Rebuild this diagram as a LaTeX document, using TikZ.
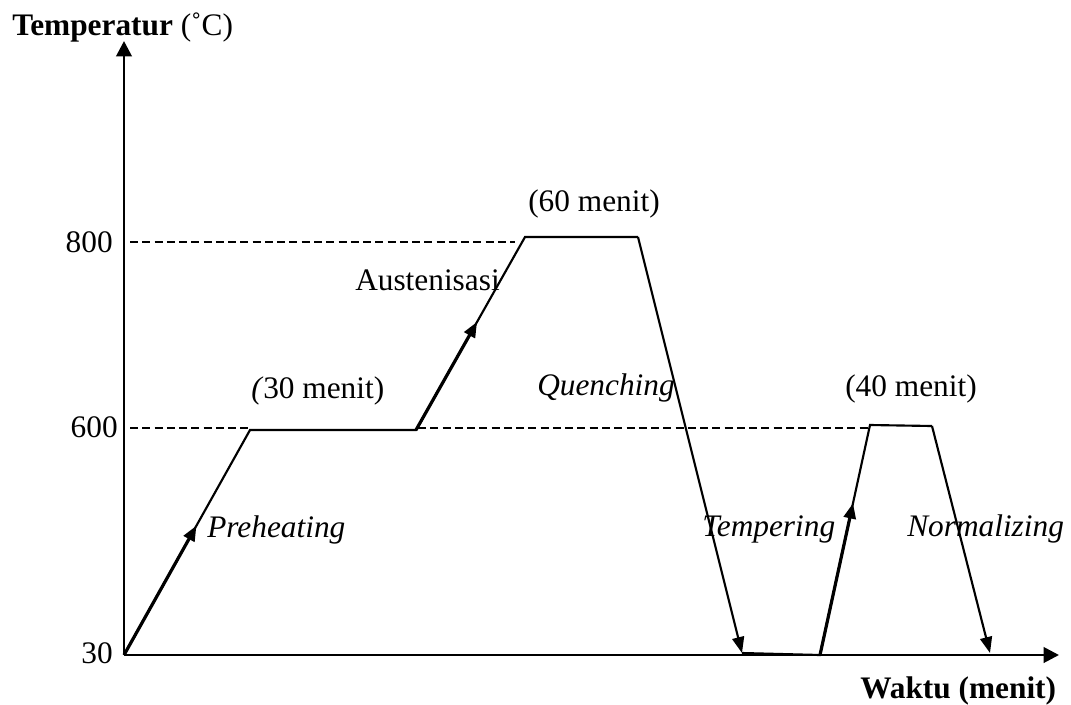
\documentclass[tikz,border=0pt]{standalone}
\usepackage{fontspec}
\setmainfont{Liberation Serif}
\usetikzlibrary{arrows.meta,calc}
\begin{document}
\begin{tikzpicture}[x=0.75pt,y=-0.75pt,
  lbl/.style={font=\fontsize{23.5}{28}\selectfont, inner sep=0pt},
  axisline/.style={line width=2.1pt, -{Triangle[length=11.5pt,width=11.5pt]}},
  curveline/.style={line width=1.6pt},
  downline/.style={line width=1.6pt, -{Triangle[length=12pt,width=9pt]}},
  ramp/.style={line width=2.4pt, -{Triangle[length=11.5pt,width=9pt]}},
  guide/.style={line width=1.5pt, dash pattern=on 6pt off 3.2pt}]
\useasboundingbox (0,0) rectangle (1071,704);
% points
\coordinate (O) at (124,655);
\coordinate (Ytip) at (124,41);
\coordinate (Xtip) at (1059,655);
\coordinate (P1) at (250,430);
\coordinate (P2) at (416,430);
\coordinate (P3) at (525,237);
\coordinate (P4) at (638,237);
\coordinate (P5) at (742,653);
\coordinate (P6) at (820,655);
\coordinate (P7) at (870,425);
\coordinate (P8) at (932,426);
\coordinate (P9) at (990,653);
\coordinate (D8a) at (130,242);
\coordinate (D8b) at (515,242);
\coordinate (D6a) at (130,428);
\coordinate (D6b) at (250,428);
\coordinate (D6c) at (418,428);
\coordinate (D6d) at (868,428);
% guides
\draw[guide] (D8a) -- (D8b);
\draw[guide] (D6a) -- (D6b);
\draw[guide] (D6c) -- (D6d);
% axes
\draw[axisline] (O) -- (Ytip);
\draw[axisline] (O) -- (Xtip);
% curve
\draw[curveline] (O) -- (P1) -- (P2) -- (P3) -- (P4);
\draw[downline] (P4) -- (P5);
\draw[curveline] (P5) -- (P6) -- (P7) -- (P8);
\draw[downline] (P8) -- (P9);
% ramp arrows
\draw[ramp] (O) -- ($(O)!0.575!(P1)$);
\draw[ramp] (P2) -- ($(P2)!0.56!(P3)$);
\draw[ramp] (P6) -- ($(P6)!0.66!(P7)$);
% labels
\node[lbl, anchor=base west] (ylab) at (12,35) {\textbf{Temperatur} (˚C)};
\node[lbl, anchor=base west] (xlab) at (860,698) {\textbf{Waktu (menit)}};
\node[lbl, anchor=base east] (t800) at (113,252) {800};
\node[lbl, anchor=base east] (t600) at (118,437) {600};
\node[lbl, anchor=base east] (t30) at (113,663) {30};
\node[lbl, anchor=base west] (m30) at (251,398) {\textit{(}30 menit)};
\node[lbl, anchor=base west] (m60) at (528,211) {(60 menit)};
\node[lbl, anchor=base west] (m40) at (845,396) {(40 menit)};
\node[lbl, anchor=base west] (aus) at (355,290) {Austenisasi};
\node[lbl, anchor=base west] (que) at (537,395) {\textit{Quenching}};
\node[lbl, anchor=base west] (pre) at (207,537) {\textit{Preheating}};
\node[lbl, anchor=base west] (tem) at (702,536) {\textit{Tempering}};
\node[lbl, anchor=base west] (nor) at (907,536) {\textit{Normalizing}};
\end{tikzpicture}
\end{document}
